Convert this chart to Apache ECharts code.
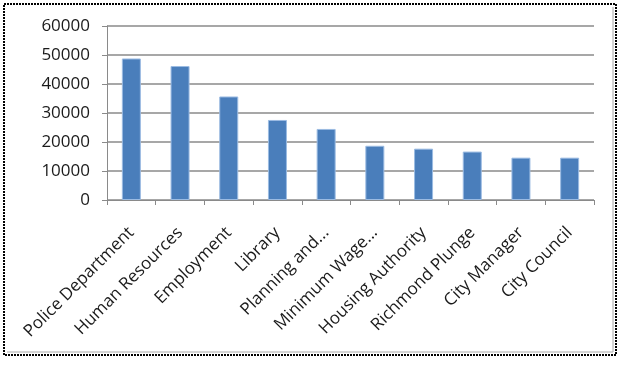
<!DOCTYPE html>
<html>
<head>
<meta charset="utf-8">
<script src="https://cdn.jsdelivr.net/npm/echarts@6/dist/echarts.min.js"></script>
<style>
html,body{margin:0;padding:0;background:#fff;}
#chart{width:629px;height:368px;}
</style>
</head>
<body>
<div id="chart"></div>
<script>
const categories = ["Police Department", "Human Resources", "Employment", "Library", "Planning and...", "Minimum Wage...", "Housing Authority", "Richmond Plunge", "City Manager", "City Council"];
const values = [48800, 46200, 35700, 27600, 24500, 18700, 17700, 16700, 14600, 14600];
const yTicks = [0, 10000, 20000, 30000, 40000, 50000, 60000];

const chart = echarts.init(document.getElementById('chart'), null, {renderer: 'canvas'});
const font = '"Open Sans", "Liberation Sans", sans-serif';
chart.setOption({
  animation: false,
  backgroundColor: '#fff',
  grid: {left: 107, right: 35, top: 26, bottom: 168},
  xAxis: {
    type: 'category',
    data: categories,
    boundaryGap: true,
    axisLine: {show: true, lineStyle: {color: '#8a8a8a', width: 1}},
    axisTick: {show: true, length: 5, alignWithLabel: false, lineStyle: {color: '#8a8a8a'}},
    axisLabel: {rotate: 45, interval: 0, margin: 30, fontFamily: font, fontSize: 17, color: '#1a1a1a'}
  },
  yAxis: {
    type: 'value',
    min: yTicks[0],
    max: yTicks[yTicks.length - 1],
    interval: yTicks[1] - yTicks[0],
    axisLine: {show: true, lineStyle: {color: '#8a8a8a', width: 1}},
    axisTick: {show: true, inside: false, length: 5, lineStyle: {color: '#8a8a8a'}},
    splitLine: {show: true, lineStyle: {color: '#8a8a8a', width: 1.5}},
    axisLabel: {margin: 17, fontFamily: font, fontSize: 17, color: '#1a1a1a', formatter: v => String(v)}
  },
  series: [{
    type: 'bar',
    data: values,
    barWidth: 19,
    itemStyle: {color: '#4a7ebb', borderColor: '#9bbbe2', borderWidth: 1}
  }],
  graphic: [
    {type: 'rect', shape: {x: 4, y: 4, width: 612, height: 351}, style: {fill: null, stroke: '#000', lineWidth: 2, lineDash: [2, 1]}, z: 100},
    {type: 'polyline', shape: {points: [[613, 7], [613, 352], [7, 352]]}, style: {fill: null, stroke: '#aaa', lineWidth: 1}, z: 100}
  ]
});
</script>
</body>
</html>
